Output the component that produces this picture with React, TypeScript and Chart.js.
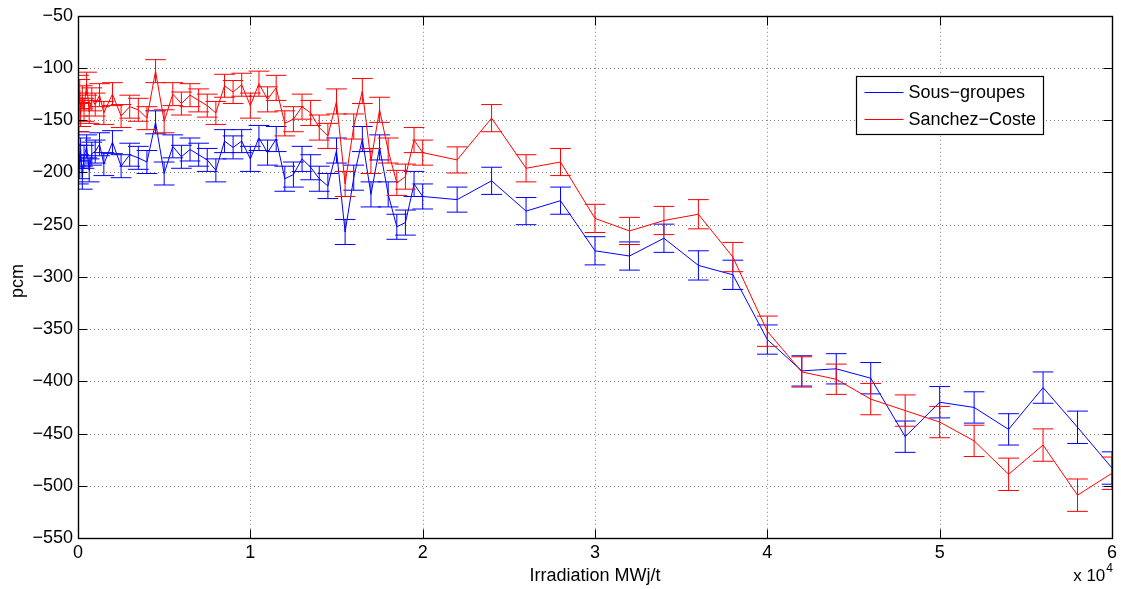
import React, { useEffect, useRef } from "react";
import { Chart, registerables } from "chart.js";

Chart.register(...registerables);

// Burnup steps (MWj/t)
const burnup = [
  0, 25, 50, 100, 150, 250, 350, 500, 650, 800, 1000, 1250, 1500,
  2000, 2500, 3000, 3500, 4000, 4500, 5000, 5500, 6000, 6500, 7000, 7500, 8000, 8500, 9000, 9500,
  10000, 10500, 11000, 11500, 12000, 12500, 13000, 13500, 14000, 14500, 15000, 15500, 16000, 16500,
  17000, 17500, 18000, 18500, 19000, 19500, 20000,
  22000, 24000, 26000, 28000, 30000, 32000, 34000, 36000, 38000, 40000,
  42000, 44000, 46000, 48000, 50000, 52000, 54000, 56000, 58000, 60000,
];

// Sous-groupes (blue), pcm
const sousGroupes = [
  -185, -200, -172, -195, -178, -205, -185, -175, -198, -182, -180, -173, -192,
  -171, -194, -183, -186, -190, -152, -201, -175, -185, -178, -183, -188, -198, -170, -176, -170,
  -187, -167, -181, -168, -206, -202, -187, -195, -206, -213, -179, -257, -205, -168,
  -221, -176, -221, -252, -248, -211, -223,
  -226, -208, -237, -227, -275, -280, -263, -289, -298, -360,
  -390, -388, -397, -453, -420, -425, -446, -406, -444, -483,
];
const sousGroupesErr = [
  11, 11, 11, 11, 11, 11, 11, 11, 11, 11, 11, 11, 11,
  11, 11, 11, 11, 11, 11, 11, 11, 11, 11, 11, 11, 11, 11, 11, 11,
  12, 12, 12, 12, 12, 12, 12, 12, 12, 12, 12, 12, 12, 12,
  12, 12, 12, 12, 12, 12, 12,
  12, 13, 13, 13, 13.5, 13.5, 13.5, 14, 14, 14,
  14.5, 14.5, 15, 15, 15, 15, 15, 15, 15.5, 15.5,
];

// Sanchez-Coste (red), pcm
const sanchezCoste = [
  -135, -118, -150, -122, -145, -128, -140, -115, -142, -130, -135, -126, -143,
  -125, -146, -137, -140, -148, -103, -151, -125, -134, -126, -131, -136, -143, -117, -123, -116,
  -136, -115, -130, -119, -153, -149, -137, -143, -157, -165, -132, -211, -156, -122,
  -189, -140, -179, -210, -204, -169, -181,
  -188, -148, -196, -190, -244, -256, -246, -240, -281, -352,
  -391, -398, -417, -428, -439, -457, -489, -461, -509, -488,
];
const sanchezCosteErr = [
  11, 11, 11, 11, 11, 11, 11, 11, 11, 11, 11, 11, 11,
  11, 11, 11, 11, 11, 11, 11, 11, 11, 11, 11, 11, 11, 11, 11, 11,
  12, 12, 12, 12, 12, 12, 12, 12, 12, 12, 12, 12, 12, 12,
  12, 12, 12, 12, 12, 12, 12,
  12.5, 13, 13, 13, 13.5, 13, 13.5, 14, 14, 14.5,
  14.5, 14.5, 15, 15, 15, 15, 15.5, 15.5, 15.5, 15.5,
];

const seriesLabels = ["Sous\u2212groupes", "Sanchez\u2212Coste"];
const xTitle = "Irradiation MWj/t";
const yTitle = "pcm";
const xScaleText = "x 10";
const xScaleExp = "4";
const capHalfWidth = 600; // MWj/t, errorbar cap half width (MATLAB: range/100)

const FAMILY = '"Liberation Sans", Arial, Helvetica, sans-serif';
const FS = 18;

const matlabPlugin = {
  id: "matlabLook",
  beforeDatasetsDraw(chart: any) {
    const { ctx, chartArea: a, scales } = chart;
    const x = scales.x, y = scales.y;
    ctx.save();
    ctx.strokeStyle = "rgba(0,0,0,0.5)";
    ctx.lineWidth = 1;
    ctx.setLineDash([1, 3]);
    x.ticks.forEach((t: any) => {
      const px = Math.round(x.getPixelForValue(t.value)) + 0.5;
      if (px < a.left + 2 || px > a.right - 2) return;
      ctx.beginPath();
      ctx.moveTo(px, a.top);
      ctx.lineTo(px, a.bottom);
      ctx.stroke();
    });
    y.ticks.forEach((t: any) => {
      const py = Math.round(y.getPixelForValue(t.value)) + 0.5;
      if (py < a.top + 2 || py > a.bottom - 2) return;
      ctx.beginPath();
      ctx.moveTo(a.left, py);
      ctx.lineTo(a.right, py);
      ctx.stroke();
    });
    ctx.restore();
  },
  afterDatasetDraw(chart: any, args: any) {
    const { ctx, chartArea: a, scales } = chart;
    const x = scales.x, y = scales.y;
    const ds = chart.data.datasets[args.index];
    const errs: number[] = ds.errorBars;
    if (!errs) return;
    ctx.save();
    ctx.beginPath();
    ctx.rect(a.left, a.top, a.right - a.left, a.bottom - a.top);
    ctx.clip();
    ctx.strokeStyle = ds.borderColor;
    ctx.lineWidth = 1;
    ds.data.forEach((p: any, i: number) => {
      const e = errs[i];
      const px = x.getPixelForValue(p.x);
      const xl = x.getPixelForValue(p.x - capHalfWidth);
      const xr = x.getPixelForValue(p.x + capHalfWidth);
      const yt = y.getPixelForValue(p.y + e);
      const yb = y.getPixelForValue(p.y - e);
      ctx.beginPath();
      ctx.moveTo(px, yt);
      ctx.lineTo(px, yb);
      ctx.moveTo(xl, yt);
      ctx.lineTo(xr, yt);
      ctx.moveTo(xl, yb);
      ctx.lineTo(xr, yb);
      ctx.stroke();
    });
    ctx.restore();
  },
  afterDraw(chart: any) {
    const { ctx, chartArea: a, scales } = chart;
    const x = scales.x, y = scales.y;
    ctx.save();
    ctx.setLineDash([]);
    ctx.strokeStyle = "#000";
    ctx.lineWidth = 1;
    const L = 9;
    const left = Math.round(a.left) + 0.5, right = Math.round(a.right) + 0.5;
    const top = Math.round(a.top) + 0.5, bottom = Math.round(a.bottom) + 0.5;
    x.ticks.forEach((t: any) => {
      const px = Math.round(x.getPixelForValue(t.value)) + 0.5;
      ctx.beginPath();
      ctx.moveTo(px, bottom); ctx.lineTo(px, bottom - L);
      ctx.moveTo(px, top); ctx.lineTo(px, top + L);
      ctx.stroke();
    });
    y.ticks.forEach((t: any) => {
      const py = Math.round(y.getPixelForValue(t.value)) + 0.5;
      ctx.beginPath();
      ctx.moveTo(left, py); ctx.lineTo(left + L, py);
      ctx.moveTo(right, py); ctx.lineTo(right - L, py);
      ctx.stroke();
    });
    ctx.lineWidth = 1.4;
    ctx.strokeRect(left, top, right - left, bottom - top);

    // Legend
    ctx.font = `${FS}px ${FAMILY}`;
    const lx = Math.round(a.right - 256) + 0.5;
    const ly = Math.round(a.top + 60) + 0.5;
    const textX = lx + 52;
    let maxW = 0;
    seriesLabels.forEach((s) => { maxW = Math.max(maxW, ctx.measureText(s).width); });
    const lw = Math.round(textX - lx + maxW + 7);
    const lh = 58;
    ctx.fillStyle = "#fff";
    ctx.fillRect(lx, ly, lw, lh);
    ctx.lineWidth = 1.2;
    ctx.strokeStyle = "#000";
    ctx.strokeRect(lx, ly, lw, lh);
    ctx.lineWidth = 1;
    chart.data.datasets.forEach((ds: any, i: number) => {
      const yy = Math.round(ly + 15 + i * 27) + 0.5;
      ctx.strokeStyle = ds.borderColor;
      ctx.beginPath();
      ctx.moveTo(lx + 8, yy);
      ctx.lineTo(lx + 47, yy);
      ctx.stroke();
      ctx.fillStyle = "#000";
      ctx.textAlign = "left";
      ctx.textBaseline = "middle";
      ctx.fillText(ds.label, textX, yy + 1);
    });

    // Axis titles
    ctx.fillStyle = "#000";
    ctx.textAlign = "center";
    ctx.textBaseline = "middle";
    ctx.fillText(xTitle, (a.left + a.right) / 2, a.bottom + 38);
    ctx.save();
    ctx.translate(18, (a.top + a.bottom) / 2 + 4);
    ctx.rotate(-Math.PI / 2);
    ctx.fillText(yTitle, 0, 0);
    ctx.restore();

    // x 10^4 multiplier
    ctx.textAlign = "right";
    ctx.textBaseline = "alphabetic";
    ctx.font = `12px ${FAMILY}`;
    const expW = ctx.measureText(xScaleExp).width;
    ctx.fillText(xScaleExp, a.right + 1, a.bottom + 34);
    ctx.font = `17px ${FAMILY}`;
    ctx.fillText(xScaleText, a.right + 1 - expW - 1, a.bottom + 43);
    ctx.restore();
  },
};

export default function App() {
  const ref = useRef<HTMLCanvasElement>(null);
  useEffect(() => {
    const canvas = ref.current;
    if (!canvas) return;
    const chart = new Chart(canvas, {
      type: "line",
      data: {
        datasets: [
          {
            label: seriesLabels[0],
            data: burnup.map((b, i) => ({ x: b, y: sousGroupes[i] })),
            errorBars: sousGroupesErr,
            borderColor: "#0000ff",
            backgroundColor: "#0000ff",
            borderWidth: 1,
            pointRadius: 0,
            tension: 0,
            order: 2,
          } as any,
          {
            label: seriesLabels[1],
            data: burnup.map((b, i) => ({ x: b, y: sanchezCoste[i] })),
            errorBars: sanchezCosteErr,
            borderColor: "#ff0000",
            backgroundColor: "#ff0000",
            borderWidth: 1,
            pointRadius: 0,
            tension: 0,
            order: 1,
          } as any,
        ],
      },
      options: {
        responsive: false,
        maintainAspectRatio: false,
        animation: false,
        devicePixelRatio: 1,
        layout: { padding: { top: 14, right: 7, left: 0, bottom: 0 } },
        plugins: {
          legend: { display: false },
          tooltip: { enabled: false },
          title: { display: false },
        },
        scales: {
          x: {
            type: "linear",
            min: 0,
            max: 60000,
            afterFit: (s: any) => { s.height = 51; },
            grid: { display: false, drawTicks: false },
            border: { display: false },
            ticks: {
              stepSize: 10000,
              padding: 4,
              color: "#000",
              font: { family: FAMILY, size: FS },
              maxRotation: 0,
              autoSkip: false,
              callback: (v: any) => String(Number(v) / 10000),
            },
          },
          y: {
            type: "linear",
            min: -550,
            max: -50,
            afterFit: (s: any) => { s.width = 78; },
            grid: { display: false, drawTicks: false },
            border: { display: false },
            ticks: {
              stepSize: 50,
              padding: 5,
              color: "#000",
              font: { family: FAMILY, size: FS },
              autoSkip: false,
              callback: (v: any) => String(v).replace("-", "\u2212"),
            },
          },
        },
      } as any,
      plugins: [matlabPlugin],
    });
    return () => chart.destroy();
  }, []);
  return (
    <div style={{ position: "absolute", left: 0, top: 0, width: 1121, height: 589, background: "#fff" }}>
      <canvas ref={ref} width={1121} height={589} style={{ display: "block" }} />
    </div>
  );
}
